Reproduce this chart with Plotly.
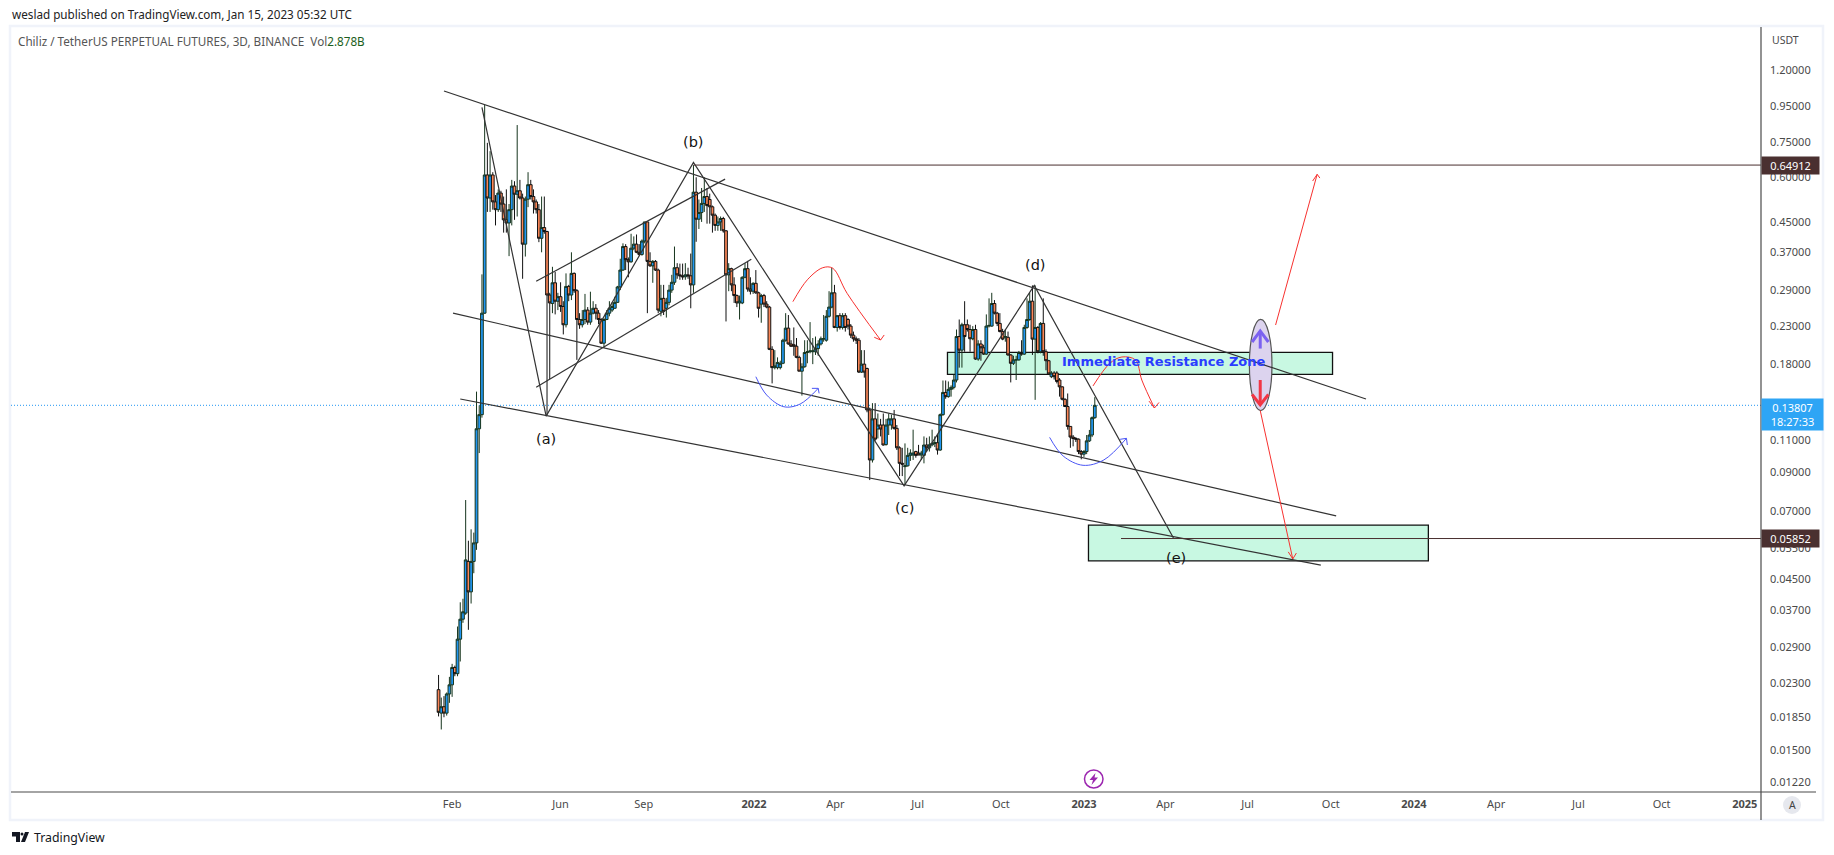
import math
import pandas as pd
import plotly.graph_objects as go

# 3D candles, Jan 2021 to Jan 2023
opens = [
    .0221, .019, .0198, .019, .0215, .0228, .0255, .0245, .0306, .0348,
    .0362, .0505, .0415, .0505, .0569, .1187, .13, .25, .609, .525,
    .609, .512, .487, .542, .505, .456, .447, .487, .567, .538,
    .55, .525, .39, .521, .572, .53, .512, .487, .405, .434,
    .423, .281, .266, .304, .27, .278, .261, .232, .297, .281,
    .323, .289, .24, .232, .24, .255, .236, .25, .258, .25,
    .24, .206, .24, .25, .255, .258, .268, .296, .33, .384,
    .353, .348, .38, .39, .37, .365, .398, .45, .349, .339,
    .349, .33, .253, .275, .258, .268, .29, .305, .335, .32,
    .318, .316, .32, .318, .30, .545, .458, .478, .507, .53,
    .52, .496, .47, .44, .45, .46, .425, .32, .333, .30,
    .28, .267, .267, .315, .333, .292, .288, .303, .285, .265,
    .28, .265, .26, .198, .176, .176, .176, .181, .21, .227,
    .205, .204, .202, .188, .172, .177, .194, .195, .195, .195,
    .199, .205, .212, .21, .245, .26, .285, .228, .246, .228,
    .246, .24, .23, .217, .212, .21, .171, .18, .175, .134,
    .0971, .1265, .1185, .1216, .1216, .1072, .1216, .1216, .1265, .119,
    .105, .095, .093, .0935, .1, .1002, .1025, .1015, .1002, .1,
    .1069, .105, .107, .108, .1085, .1035, .13, .15, .146, .153,
    .155, .1625, .215, .197, .232, .232, .225, .212, .225, .186,
    .205, .2, .192, .23, .23, .266, .25, .234, .222, .214,
    .214, .191, .181, .185, .185, .194, .192, .228, .24, .27,
    .2115, .228, .195, .234, .195, .184, .166, .17, .17, .1625,
    .1555, .1435, .137, .1205, .1125, .1115, .111, .1025, .1008, .1025,
    .1098, .114, .1275,
]
closes = [
    .0191, .0198, .019, .0215, .0228, .0255, .0245, .0306, .0348, .0365,
    .051, .0415, .0505, .0569, .1187, .13, .25, .609, .525, .609,
    .512, .487, .542, .505, .456, .447, .487, .567, .538, .55,
    .525, .39, .521, .572, .53, .512, .487, .405, .434, .423,
    .281, .267, .304, .27, .278, .261, .232, .297, .281, .323,
    .289, .24, .232, .24, .255, .236, .25, .258, .25, .24,
    .206, .24, .25, .258, .261, .268, .296, .33, .384, .353,
    .348, .38, .39, .37, .365, .398, .45, .349, .339, .349,
    .33, .255, .275, .253, .268, .29, .305, .335, .32, .318,
    .316, .32, .318, .30, .545, .458, .478, .507, .53, .50,
    .496, .47, .44, .45, .46, .425, .32, .333, .30, .28,
    .267, .27, .315, .333, .292, .288, .303, .285, .258, .28,
    .265, .26, .198, .176, .178, .182, .181, .21, .227, .205,
    .202, .202, .188, .172, .177, .194, .195, .196, .196, .199,
    .205, .212, .212, .245, .26, .285, .228, .246, .228, .246,
    .228, .23, .217, .212, .21, .171, .18, .171, .134, .0971,
    .1265, .111, .1216, .1185, .1069, .1216, .1265, .1265, .119, .105,
    .095, .0945, .0935, .1, .1015, .1015, .1, .1002, .1015, .1069,
    .105, .107, .108, .1085, .1035, .13, .15, .146, .153, .155,
    .1625, .215, .197, .232, .215, .225, .212, .225, .186, .205,
    .2, .192, .23, .231, .266, .25, .234, .222, .2115, .215,
    .191, .181, .185, .185, .194, .192, .228, .24, .27, .2115,
    .228, .195, .234, .195, .184, .169, .17, .166, .161, .1555,
    .1435, .137, .1205, .1125, .1115, .111, .1025, .1008, .1025, .1098,
    .114, .1275, .13807,
]
highs = [
    .0243, .021, .0212, .0217, .024, .0261, .0258, .0332, .0388, .0397,
    .075, .0577, .0621, .0608, .1508, .138, .321, .956, .749, .71,
    .62, .535, .555, .55, .53, .555, .505, .59, .585, .84,
    .59, .54, .53, .62, .59, .555, .52, .505, .53, .53,
    .425, .285, .337, .326, .285, .305, .27, .323, .3, .37,
    .325, .292, .25, .255, .283, .26, .287, .27, .265, .255,
    .242, .242, .255, .27, .268, .278, .298, .355, .392, .39,
    .358, .417, .41, .415, .39, .402, .45, .45, .37, .352,
    .352, .333, .30, .30, .276, .30, .32, .384, .345, .344,
    .344, .345, .335, .367, .649, .60, .52, .56, .60, .56,
    .54, .50, .475, .466, .466, .465, .427, .345, .335, .315,
    .282, .28, .317, .345, .35, .315, .305, .33, .287, .283,
    .283, .27, .262, .202, .197, .188, .184, .212, .25, .247,
    .21, .228, .213, .19, .181, .21, .21, .236, .213, .215,
    .21, .215, .247, .255, .288, .335, .30, .247, .25, .25,
    .25, .242, .233, .222, .215, .213, .197, .197, .176, .136,
    .14, .14, .131, .1265, .131, .1265, .131, .13, .134, .1216,
    .106, .105, .108, .105, .104, .118, .103, .107, .103, .113,
    .112, .113, .118, .113, .114, .131, .162, .162, .161, .157,
    .168, .225, .24, .235, .27, .24, .232, .23, .232, .21,
    .21, .204, .248, .275, .285, .272, .252, .25, .226, .225,
    .222, .192, .19, .19, .196, .21, .232, .275, .285, .299,
    .299, .23, .236, .275, .198, .185, .172, .172, .172, .1645,
    .156, .1445, .149, .1205, .114, .1125, .1115, .1035, .1035, .114,
    .1178, .1285, .1455,
]
lows = [
    .0186, .0171, .0185, .0187, .0203, .0211, .0241, .0241, .0265, .034,
    .0358, .0325, .0385, .0468, .0544, .1015, .1275, .249, .48, .48,
    .487, .44, .48, .48, .42, .42, .361, .44, .456, .466,
    .52, .312, .36, .495, .52, .475, .475, .395, .37, .417,
    .13, .1636, .25, .248, .255, .252, .218, .228, .27, .272,
    .285, .185, .226, .228, .233, .232, .232, .248, .24, .233,
    .205, .2, .239, .245, .252, .257, .267, .29, .328, .33,
    .315, .346, .375, .368, .362, .362, .392, .25, .337, .304,
    .328, .25, .245, .247, .243, .263, .285, .30, .312, .31,
    .31, .31, .312, .258, .285, .396, .43, .45, .48, .445,
    .445, .42, .425, .425, .425, .42, .237, .288, .288, .267,
    .26, .24, .265, .313, .287, .282, .283, .283, .243, .235,
    .26, .258, .197, .159, .174, .174, .174, .18, .208, .204,
    .201, .19, .187, .172, .147, .176, .181, .193, .18, .191,
    .19, .203, .208, .208, .243, .258, .227, .222, .225, .225,
    .222, .225, .213, .208, .205, .17, .17, .165, .132, .0853,
    .0955, .1098, .1115, .113, .1065, .1065, .114, .118, .118, .1035,
    .0875, .0875, .0826, .093, .0965, .0971, .0985, .1002, .0971, .095,
    .1025, .1025, .106, .1055, .1005, .103, .129, .144, .145, .146,
    .153, .16, .176, .176, .195, .222, .195, .21, .185, .184,
    .184, .191, .191, .228, .229, .248, .23, .221, .21, .208,
    .19, .16, .179, .1625, .184, .19, .191, .226, .238, .191,
    .143, .193, .193, .19, .173, .168, .1645, .163, .159, .146,
    .1425, .1365, .118, .105, .106, .109, .1008, .0975, .099, .1008,
    .109, .1125, .1265,
]
dates = pd.date_range("2021-01-17", periods=len(opens), freq="3D")

# axis ticks
price_ticks = [1.2, .95, .75, .6, .45, .37, .29, .23, .18, .11, .09, .07, .055, .045, .037, .029, .023, .0185, .015, .0122]
price_labels = [f"{p:.5f}" for p in price_ticks]
time_ticks = ["2021-02-01", "2021-06-01", "2021-09-01", "2022-01-01", "2022-04-01", "2022-07-01", "2022-10-01",
              "2023-01-01", "2023-04-01", "2023-07-01", "2023-10-01", "2024-01-01", "2024-04-01", "2024-07-01",
              "2024-10-01", "2025-01-01"]
time_labels = ["Feb", "Jun", "Sep", "<b>2022</b>", "Apr", "Jul", "Oct", "<b>2023</b>", "Apr", "Jul", "Oct",
               "<b>2024</b>", "Apr", "Jul", "Oct", "<b>2025</b>"]

last_price = 0.13807
top_level = 0.64912
bottom_level = 0.05852
x_start, x_end = "2019-10-02", "2025-01-19"

# black trendlines, the wave count and the small channel
upper_x, upper_y = ["2021-01-23", "2023-11-09"], [1.046, .1438]
middle_x, middle_y = ["2021-02-02", "2023-10-07"], [.25, .0677]
lower_x, lower_y = ["2021-02-10", "2023-09-20"], [.1438, .0493]
wave_x = ["2021-03-06", "2021-05-16", "2021-10-26", "2022-06-16", "2022-11-07", "2023-04-10"]
wave_y = [.942, .1288, .66, .0822, .299, .0587]
small_top_x, small_top_y = ["2021-05-05", "2021-11-30"], [.307, .593]
small_bot_x, small_bot_y = ["2021-05-05", "2021-12-29"], [.155, .3537]

wave_label_text = ["(a)", "(b)", "(c)", "(d)", "(e)"]
wave_label_x = ["2021-05-16", "2021-10-26", "2022-06-16", "2022-11-08", "2023-04-13"]
wave_label_y = [.1114, .755, .0712, .34, .0516]

# hand drawn arcs and their arrow heads
red_arc_x = ["2022-02-13", "2022-03-01", "2022-03-18", "2022-03-29", "2022-04-14", "2022-05-21"]
red_arc_y = [.2692, .31, .335, .334, .284, .2103]
red_head_x = ["2022-05-14", "2022-05-21", "2022-05-25"]
red_head_y = [.214, .2103, .2172]

blue_arc_x = ["2022-01-03", "2022-01-15", "2022-02-03", "2022-02-21", "2022-03-13"]
blue_arc_y = [.166, .1475, .1368, .1392, .154]
blue_head_x = ["2022-03-06", "2022-03-13", "2022-03-14"]
blue_head_y = [.154, .154, .1491]

blue_arc2_x = ["2022-11-24", "2022-12-09", "2022-12-31", "2023-01-23", "2023-02-17"]
blue_arc2_y = [.1123, .0996, .0938, .0971, .1116]
blue_head2_x = ["2023-02-10", "2023-02-17", "2023-02-18"]
blue_head2_y = [.1109, .1116, .1069]

red_arc2_x = ["2023-01-11", "2023-01-30", "2023-02-12", "2023-02-27", "2023-03-06", "2023-03-20"]
red_arc2_y = [.1564, .1813, .1885, .1849, .1625, .1357]
red_head2_x = ["2023-03-14", "2023-03-20", "2023-03-25"]
red_head2_y = [.1418, .1357, .1406]

up_arrow_x, up_arrow_y = ["2023-08-01", "2023-09-16"], [.2316, .6115]
up_head_x, up_head_y = ["2023-09-11", "2023-09-16", "2023-09-19"], [.5857, .6115, .597]
down_arrow_x, down_arrow_y = ["2023-07-15", "2023-08-20"], [.1335, .0513]
down_head_x, down_head_y = ["2023-08-15", "2023-08-20", "2023-08-24"], [.0537, .0513, .0533]

# thick arrows inside the ellipse
purple_x, purple_y = ["2023-07-15", "2023-07-15"], [.199, .2229]
purple_head_x, purple_head_y = ["2023-07-06", "2023-07-15", "2023-07-24"], [.2076, .2229, .2076]
pink_x, pink_y = ["2023-07-15", "2023-07-15"], [.1625, .1384]
pink_head_x, pink_head_y = ["2023-07-06", "2023-07-15", "2023-07-24"], [.148, .1384, .148]

# zones
resistance_x, resistance_y = ["2022-08-03", "2023-10-03"], [.1686, .1943]
support_x, support_y = ["2023-01-06", "2024-01-17"], [.0507, .0638]
ellipse_x, ellipse_y = ["2023-07-03", "2023-07-28"], [.1335, .2403]

L, R, T, B = 11, 73, 27, 63
W, H = 1834, 855


def px(x):
    return (x - L) / (W - L - R)


def py(y):
    return (H - B - y) / (H - T - B)


fig = go.Figure()

fig.add_trace(go.Candlestick(
    x=dates, open=opens, high=highs, low=lows, close=closes,
    increasing=dict(line=dict(color="#16351d", width=1), fillcolor="#2196f3"),
    decreasing=dict(line=dict(color="#111111", width=1), fillcolor="#fb8758"),
    whiskerwidth=0, hoverinfo="skip", showlegend=False,
))


def draw(xs, ys, color="#333333", width=1.2, shape="linear"):
    fig.add_trace(go.Scatter(x=xs, y=ys, mode="lines", line=dict(color=color, width=width, shape=shape, smoothing=1),
                             hoverinfo="skip", showlegend=False))


for xs, ys in [(upper_x, upper_y), (middle_x, middle_y), (lower_x, lower_y), (wave_x, wave_y),
               (small_top_x, small_top_y), (small_bot_x, small_bot_y)]:
    draw(xs, ys)

# horizontal levels
draw(["2021-10-26", x_end], [top_level, top_level], "#4a2f2f", 1)
draw(["2023-02-11", x_end], [bottom_level, bottom_level], "#4a2f2f", 1)

RED = "#f7312f"
BLUE = "#4a55f5"
draw(red_arc_x, red_arc_y, RED, 1, "spline")
draw(red_head_x, red_head_y, RED, 1)
draw(blue_arc_x, blue_arc_y, BLUE, 1, "spline")
draw(blue_head_x, blue_head_y, BLUE, 1)
draw(blue_arc2_x, blue_arc2_y, BLUE, 1, "spline")
draw(blue_head2_x, blue_head2_y, BLUE, 1)
draw(red_arc2_x, red_arc2_y, RED, 1, "spline")
draw(red_head2_x, red_head2_y, RED, 1)
draw(up_arrow_x, up_arrow_y, RED, 1)
draw(up_head_x, up_head_y, RED, 1)
draw(down_arrow_x, down_arrow_y, RED, 1)
draw(down_head_x, down_head_y, RED, 1)
draw(purple_x, purple_y, "#7b61f0", 3)
draw(purple_head_x, purple_head_y, "#7b61f0", 3)
draw(pink_x, pink_y, "#f23645", 3)
draw(pink_head_x, pink_head_y, "#f23645", 3)

shapes = [
    # outer frame and axis lines
    dict(type="rect", xref="paper", yref="paper", x0=px(10), x1=px(1823), y0=py(820), y1=py(26),
         line=dict(color="#f0f3fa", width=2.5), layer="below"),
    dict(type="line", xref="paper", yref="paper", x0=0, x1=px(1816), y0=0, y1=0, line=dict(color="#4a4a4a", width=1.2)),
    dict(type="line", xref="paper", yref="paper", x0=1, x1=1, y0=py(820), y1=1, line=dict(color="#4a4a4a", width=1.2)),
    # last price line
    dict(type="line", xref="paper", yref="y", x0=0, x1=1, y0=last_price, y1=last_price,
         line=dict(color="#2196f3", width=1, dash="1px,2px"), layer="below"),
    # zones
    dict(type="rect", x0=resistance_x[0], x1=resistance_x[1], y0=resistance_y[0], y1=resistance_y[1],
         fillcolor="#c8f8e2", line=dict(color="#111111", width=1.3), layer="below"),
    dict(type="rect", x0=support_x[0], x1=support_x[1], y0=support_y[0], y1=support_y[1],
         fillcolor="#c8f8e2", line=dict(color="#111111", width=1.3), layer="below"),
    dict(type="circle", x0=ellipse_x[0], x1=ellipse_x[1], y0=ellipse_y[0], y1=ellipse_y[1],
         fillcolor="#dcd3ee", line=dict(color="#555555", width=1.2), layer="below"),
    # "A" button on the axis
    dict(type="circle", xref="paper", yref="paper", x0=px(1783), x1=px(1801), y0=py(814), y1=py(796),
         fillcolor="#e6e8ee", line=dict(width=0)),
    # purple marker under the last candles
    dict(type="circle", xref="paper", yref="paper", x0=px(1084.5), x1=px(1103), y0=py(788), y1=py(770),
         fillcolor="white", line=dict(color="#9c27b0", width=1.5)),
    dict(type="path", xref="paper", yref="paper", fillcolor="#9c27b0", line=dict(width=0),
         path=f"M {px(1095.5)} {py(773)} L {px(1089.5)} {py(780)} L {px(1093)} {py(780)} L {px(1091.5)} {py(785)} "
              f"L {px(1098)} {py(777.5)} L {px(1094.5)} {py(777.5)} Z"),
    # small TradingView logo
    dict(type="path", xref="paper", yref="paper", fillcolor="#131722", line=dict(width=0),
         path=f"M {px(12)} {py(832)} H {px(20)} V {py(842)} H {px(16)} V {py(836.5)} H {px(12)} Z"),
    dict(type="circle", xref="paper", yref="paper", x0=px(20.5), x1=px(23.5), y0=py(835.5), y1=py(832.5),
         fillcolor="#131722", line=dict(width=0)),
    dict(type="path", xref="paper", yref="paper", fillcolor="#131722", line=dict(width=0),
         path=f"M {px(25)} {py(832)} H {px(29)} L {px(25)} {py(842)} H {px(21)} Z"),
]

FONT = "Noto Sans"
annotations = [
    dict(text="weslad published on TradingView.com, Jan 15, 2023 05:32 UTC", xref="paper", yref="paper",
         x=px(10), y=py(14), xanchor="left", yanchor="middle", showarrow=False, font=dict(family=FONT, size=11.7, color="#222222")),
    dict(text="Chiliz / TetherUS PERPETUAL FUTURES, 3D, BINANCE  Vol<span style='color:#1b5e20'>2.878B</span>",
         xref="paper", yref="paper", x=px(16), y=py(41), xanchor="left", yanchor="middle", showarrow=False,
         font=dict(family=FONT, size=11.7, color="#555555")),
    dict(text="USDT", xref="paper", yref="paper", x=px(1770), y=py(40), xanchor="left", yanchor="middle", showarrow=False,
         font=dict(family=FONT, size=10.5, color="#4a4a4a")),
    dict(text="A", xref="paper", yref="paper", x=px(1792), y=py(805), xanchor="center", yanchor="middle", showarrow=False,
         font=dict(family=FONT, size=10.5, color="#444444")),
    dict(text="TradingView", xref="paper", yref="paper", x=px(32), y=py(837), xanchor="left", yanchor="middle", showarrow=False,
         font=dict(family=FONT, size=12.3, color="#131722")),
    dict(text="Immediate Resistance Zone", x="2023-03-30", y=math.log10(.1832), xanchor="center", yanchor="middle", showarrow=False,
         font=dict(family="DejaVu Sans", size=13, color="#2a3cff", weight="bold")),
    # price labels on the axis
    dict(text=f"{top_level:.5f}", xref="paper", x=1, y=math.log10(top_level), xanchor="left", yanchor="middle", showarrow=False,
         width=55, height=15, bgcolor="#4a3030", font=dict(family=FONT, size=11, color="white")),
    dict(text=f"{bottom_level:.5f}", xref="paper", x=1, y=math.log10(bottom_level), xanchor="left", yanchor="middle", showarrow=False,
         width=55, height=15, bgcolor="#4a3030", font=dict(family=FONT, size=11, color="white")),
    dict(text=f"{last_price:.5f}<br>18:27:33", xref="paper", x=1, y=math.log10(.1305), xanchor="left", yanchor="middle", showarrow=False,
         width=59, height=29, bgcolor="#2ea5f5", font=dict(family=FONT, size=11, color="white")),
]
for label, lx, ly in zip(wave_label_text, wave_label_x, wave_label_y):
    annotations.append(dict(text=label, x=lx, y=math.log10(ly), xanchor="center", yanchor="middle", showarrow=False,
                            font=dict(family="DejaVu Sans", size=14.5, color="#111111")))

fig.update_layout(
    width=W, height=H, margin=dict(l=L, r=R, t=T, b=B),
    paper_bgcolor="white", plot_bgcolor="white",
    showlegend=False, boxgap=0, boxgroupgap=0, shapes=shapes, annotations=annotations,
    font=dict(family=FONT, size=11, color="#4a4a4a"),
    xaxis=dict(type="date", range=[x_start, x_end], tickvals=time_ticks, ticktext=time_labels, showgrid=False,
               zeroline=False, rangeslider=dict(visible=False), ticks="", ticklabelstandoff=4, showline=False),
    yaxis=dict(type="log", side="right", range=[math.log10(.01143), math.log10(1.58)], tickvals=price_ticks,
               ticktext=price_labels, showgrid=False, zeroline=False, ticks="", ticklabelstandoff=8, showline=False),
)

# the browser's default body margin would push everything 8px off
fig.write_html("out.html", config={"displayModeBar": False}, post_script="document.body.style.margin = '0';")
